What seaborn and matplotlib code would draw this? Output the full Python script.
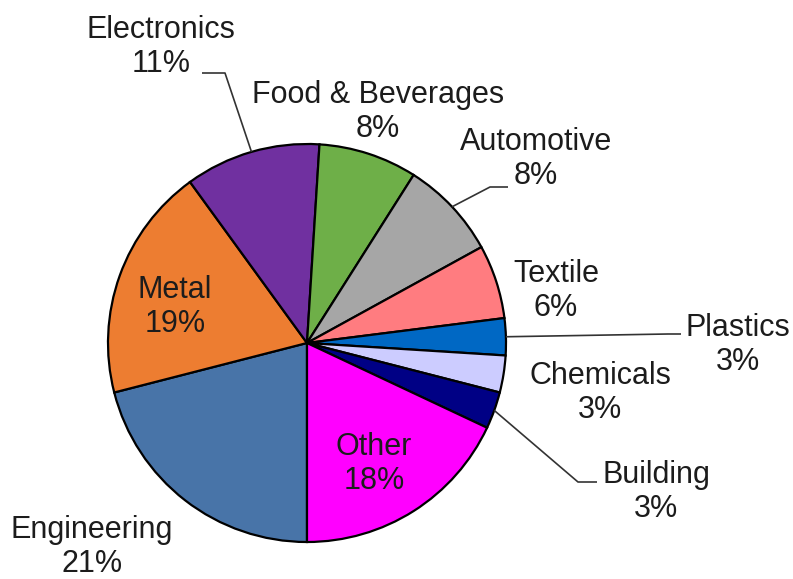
import matplotlib
matplotlib.use("Agg")
import matplotlib.pyplot as plt
import seaborn as sns
import numpy as np

# Sector shares (percent), listed clockwise starting from the bottom of the pie
sectors = ["Engineering", "Metal", "Electronics", "Food & Beverages", "Automotive",
           "Textile", "Plastics", "Chemicals", "Building", "Other"]
shares = [21, 19, 11, 8, 8, 6, 3, 3, 3, 18]
colors = ["#4874A8", "#ED7D31", "#7030A0", "#6EAF48", "#A6A6A6",
          "#FF7C80", "#0068C4", "#CCCCFF", "#000085", "#FF00FF"]

sns.set_theme(style="white")
plt.rcParams["font.family"] = ["Liberation Sans", "DejaVu Sans"]

W, H = 793, 579
fig = plt.figure(figsize=(W / 100, H / 100), dpi=100)
ax = fig.add_axes([0, 0, 1, 1])

cx, cy, R = 307, H - 343, 199
wedges, _ = ax.pie(shares, colors=colors, startangle=-90, counterclock=False,
                   center=(cx, cy), radius=R,
                   wedgeprops=dict(edgecolor="black", linewidth=1.6))
ax.set_xlim(0, W)
ax.set_ylim(0, H)
ax.set_aspect("equal")
ax.axis("off")

# label placement (pixel coords from top-left) and optional leader-line elbow/end
layout = {
    "Engineering":      dict(pos=(92, 547)),
    "Metal":            dict(pos=(175, 307)),
    "Electronics":      dict(pos=(161, 47), leader=[(225, 73), (202, 73)]),
    "Food & Beverages": dict(pos=(378, 112)),
    "Automotive":       dict(pos=(536, 159), leader=[(490, 187), (508, 187)]),
    "Textile":          dict(pos=(556, 291)),
    "Plastics":         dict(pos=(738, 345), leader=[(668, 334), (681, 334)]),
    "Chemicals":        dict(pos=(600, 393)),
    "Building":         dict(pos=(656, 492), leader=[(578, 482), (597, 482)]),
    "Other":            dict(pos=(374, 464)),
}

text_color = "#1c1c1c"
for wedge, name, val in zip(wedges, sectors, shares):
    spec = layout[name]
    x, y = spec["pos"]
    ax.text(x, H - y, f"{name}\n{val:.0f}%", ha="center", va="center",
            fontsize=22, color=text_color, linespacing=1.2)
    if "leader" in spec:
        mid = np.deg2rad((wedge.theta1 + wedge.theta2) / 2)
        sx, sy = cx + R * np.cos(mid), cy + R * np.sin(mid)
        xs = [sx] + [p[0] for p in spec["leader"]]
        ys = [sy] + [H - p[1] for p in spec["leader"]]
        ax.plot(xs, ys, color="#333333", linewidth=1.2, solid_capstyle="butt")

fig.savefig("out.png", dpi=100, facecolor="white")
